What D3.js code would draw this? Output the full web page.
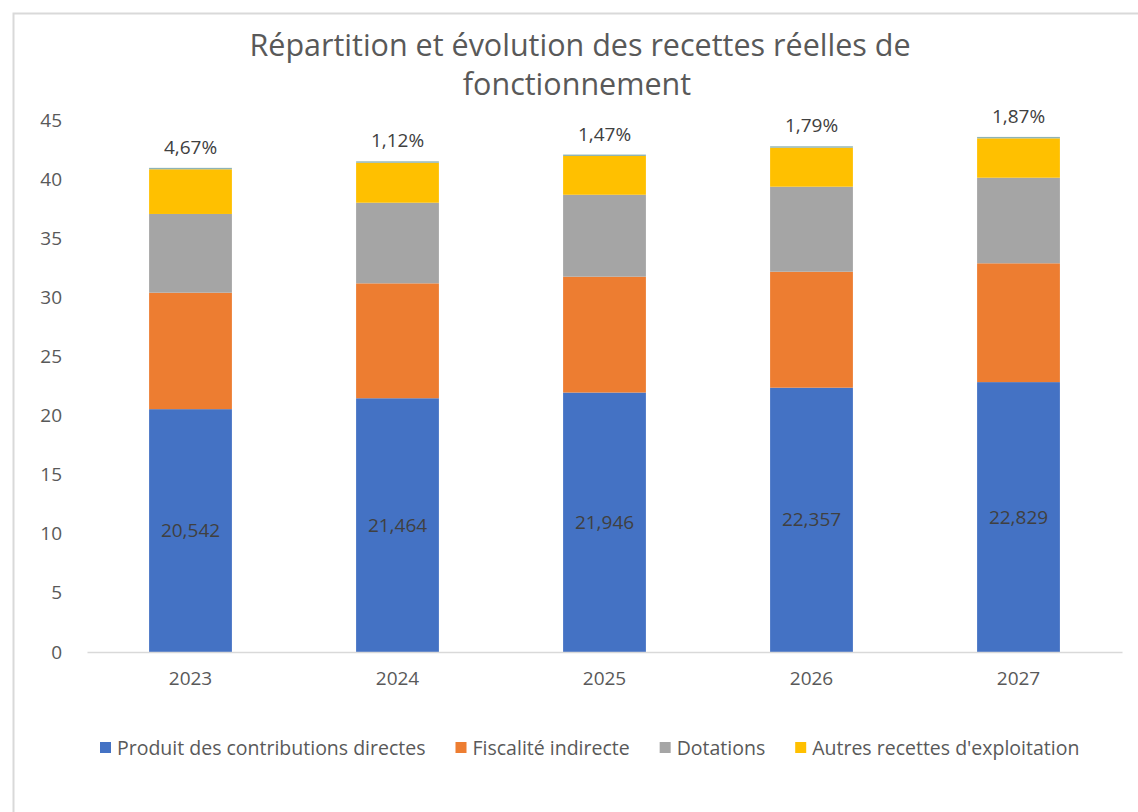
<!DOCTYPE html>
<html>
<head>
<meta charset="utf-8">
<script src="https://cdn.jsdelivr.net/npm/d3@7"></script>
<style>
	body { margin: 0; background: #fff; }
	svg { display: block; }
	text { font-family: 'Open Sans', sans-serif; }
</style>
</head>
<body>
<svg id="chart"></svg>
<script>
;(() => {
	'use strict';

	// data (millions)
	const years = ['2023', '2024', '2025', '2026', '2027'],
		contributions = [20.542, 21.464, 21.946, 22.357, 22.829],
		fiscalite = [9.85, 9.72, 9.80, 9.81, 10.05],
		dotations = [6.66, 6.82, 6.93, 7.19, 7.24],
		autres = [3.78, 3.38, 3.28, 3.30, 3.33],
		// thin top series carrying the yearly growth labels
		evolutionBar = [0.12, 0.12, 0.12, 0.12, 0.12],
		evolution = [4.67, 1.12, 1.47, 1.79, 1.87],
		yTicks = [0, 5, 10, 15, 20, 25, 30, 35, 40, 45];

	const seriesNames = ['Produit des contributions directes', 'Fiscalité indirecte', 'Dotations', "Autres recettes d'exploitation", 'Évolution'],
		colors = ['#4472c4', '#ed7d31', '#a5a5a5', '#ffc000', '#8fb4b4'];

	const width = 1138,
		height = 812,
		margin = {top: 120, left: 87},
		plotRight = 1122,
		plotBottom = 652;

	const svg = d3.select('#chart')
		.attr('width', width)
		.attr('height', height);

	const fr = d3.formatLocale({decimal: ',', thousands: ' ', grouping: [3], currency: ['', '€']});

	// frame of the captured chart
	svg.append('path')
		.attr('d', 'M13.5,812 V13.5 H1138')
		.attr('fill', 'none')
		.attr('stroke', '#d9d9d9')
		.attr('stroke-width', 2);

	const table = years.map((y, i) => ({
		year: y,
		s0: contributions[i],
		s1: fiscalite[i],
		s2: dotations[i],
		s3: autres[i],
		s4: evolutionBar[i]
	}));

	const keys = ['s0', 's1', 's2', 's3', 's4'];
	const stack = d3.stack().keys(keys)(table);

	const x = d3.scaleBand()
		.domain(years)
		.range([margin.left, plotRight])
		.paddingInner(0.6)
		.paddingOuter(0.3);

	const y = d3.scaleLinear()
		.domain([0, 45])
		.range([plotBottom, margin.top]);

	// y axis labels
	const yAxis = svg.append('g')
		.attr('transform', `translate(${margin.left},0)`)
		.call(d3.axisLeft(y).tickValues(yTicks).tickSize(0).tickPadding(25));
	yAxis.select('.domain').remove();
	yAxis.selectAll('text')
		.attr('fill', '#595959')
		.style('font-size', '19px');

	// bars
	svg.append('g')
		.selectAll('g')
		.data(stack)
		.join('g')
		.attr('fill', (d, i) => colors[i])
		.selectAll('rect')
		.data(d => d)
		.join('rect')
		.attr('x', d => x(d.data.year))
		.attr('width', x.bandwidth())
		.attr('y', d => y(d[1]))
		.attr('height', d => y(d[0]) - y(d[1]));

	// x axis
	const xAxis = svg.append('g')
		.attr('transform', `translate(0,${plotBottom})`)
		.call(d3.axisBottom(x).tickSize(0).tickPadding(20));
	xAxis.select('.domain')
		.attr('stroke', '#d9d9d9')
		.attr('stroke-width', 1.5);
	xAxis.selectAll('text')
		.attr('fill', '#595959')
		.style('font-size', '19px');

	// value labels inside the blue bars
	svg.append('g')
		.selectAll('text')
		.data(stack[0])
		.join('text')
		.attr('x', d => x(d.data.year) + x.bandwidth() / 2)
		.attr('y', d => y((d[0] + d[1]) / 2))
		.attr('dy', '0.35em')
		.attr('text-anchor', 'middle')
		.attr('fill', '#404040')
		.style('font-size', '19px')
		.text(d => fr.format(',.3f')(d.data.s0));

	// growth labels above each bar
	svg.append('g')
		.selectAll('text')
		.data(stack[4])
		.join('text')
		.attr('x', d => x(d.data.year) + x.bandwidth() / 2)
		.attr('y', d => y(d[1]) - 14)
		.attr('text-anchor', 'middle')
		.attr('fill', '#404040')
		.style('font-size', '19px')
		.text((d, i) => fr.format('.2f')(evolution[i]) + '%');

	// title
	const title = svg.append('g')
		.attr('text-anchor', 'middle')
		.attr('fill', '#595959')
		.style('font-size', '30.5px');
	title.append('text')
		.attr('x', 580)
		.attr('y', 56)
		.text('Répartition et évolution des recettes réelles de');
	title.append('text')
		.attr('x', 577)
		.attr('y', 95)
		.text('fonctionnement');

	// legend
	const legend = svg.append('g')
		.attr('transform', 'translate(100,748)');
	let lx = 0;
	seriesNames.slice(0, 4).forEach((name, i) => {
		const item = legend.append('g').attr('transform', `translate(${lx},0)`);
		item.append('rect')
			.attr('x', 0)
			.attr('y', -6)
			.attr('width', 11)
			.attr('height', 11)
			.attr('fill', colors[i]);
		const t = item.append('text')
			.attr('x', 17)
			.attr('dy', '0.35em')
			.attr('fill', '#595959')
			.style('font-size', '19.5px')
			.text(name);
		lx += 17 + t.node().getComputedTextLength() + 30;
	});
})();
</script>
</body>
</html>
